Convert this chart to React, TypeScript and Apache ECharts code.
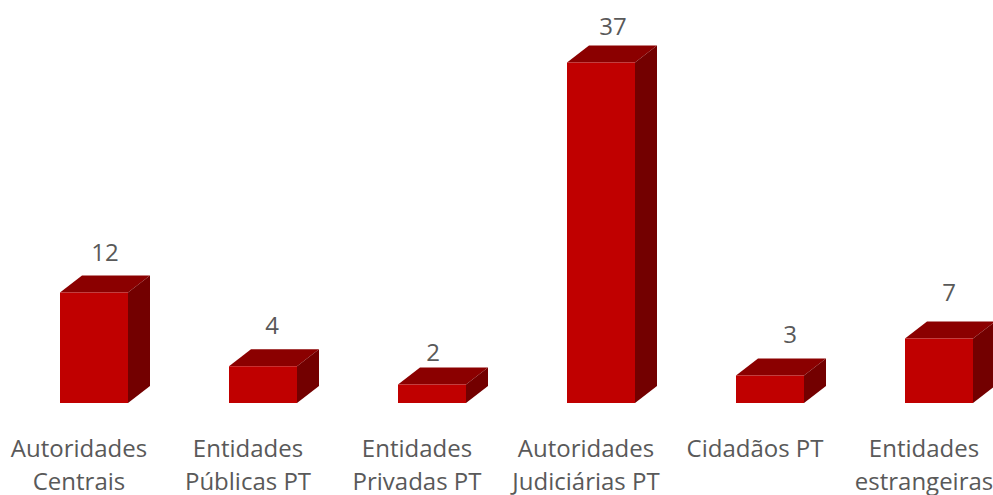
import React, { useEffect, useRef } from "react";
import * as echarts from "echarts";

const categories = [
  "Autoridades\nCentrais",
  "Entidades\nPúblicas PT",
  "Entidades\nPrivadas PT",
  "Autoridades\nJudiciárias PT",
  "Cidadãos PT",
  "Entidades\nestrangeiras",
];
const values = [12, 4, 2, 37, 3, 7];

// Hand placement of each value label relative to the column's back top edge.
const labelShiftX = [26, 24, 16, 27, 35, 25];
const labelLift = [24, 25, 16, 20, 25, 30];

const FRONT = "#C00000";
const TOP = "#8B0000";
const SIDE = "#730000";
const TEXT = "#595959";
const FONT = '"Open Sans", sans-serif';

const BAR_WIDTH = 68;
const BAR_OFFSET = -19;
const DEPTH_X = 22;
const DEPTH_Y = 17;

function renderColumn(params: any, api: any) {
  const i = api.value(0);
  const v = api.value(1);
  const [cx, yTop] = api.coord([i, v]);
  const [, yBase] = api.coord([i, 0]);
  const x0 = cx + BAR_OFFSET;
  const x1 = x0 + BAR_WIDTH;
  return {
    type: "group",
    children: [
      {
        type: "polygon",
        shape: { points: [[x0, yTop], [x0 + DEPTH_X, yTop - DEPTH_Y], [x1 + DEPTH_X, yTop - DEPTH_Y], [x1, yTop]] },
        style: { fill: TOP },
      },
      {
        type: "polygon",
        shape: { points: [[x1, yTop], [x1 + DEPTH_X, yTop - DEPTH_Y], [x1 + DEPTH_X, yBase - DEPTH_Y], [x1, yBase]] },
        style: { fill: SIDE },
      },
      {
        type: "rect",
        shape: { x: x0, y: yTop, width: BAR_WIDTH, height: yBase - yTop },
        style: { fill: FRONT },
      },
      {
        type: "text",
        x: cx + labelShiftX[params.dataIndex],
        y: yTop - DEPTH_Y - labelLift[params.dataIndex],
        style: {
          text: String(v),
          fill: TEXT,
          font: `24px ${FONT}`,
          align: "center",
          verticalAlign: "middle",
        },
      },
    ],
  };
}

export default function App() {
  const ref = useRef<HTMLDivElement>(null);

  useEffect(() => {
    const chart = echarts.init(ref.current!, undefined, { renderer: "svg" });
    chart.setOption({
      animation: false,
      backgroundColor: "#ffffff",
      grid: { left: -5.5, top: 35, width: 1014, height: 368, containLabel: false, outerBoundsMode: "none" },
      xAxis: {
        type: "category",
        data: categories,
        axisLine: { show: false },
        axisTick: { show: false },
        axisLabel: {
          interval: 0,
          color: TEXT,
          fontFamily: FONT,
          fontSize: 24,
          lineHeight: 33,
          margin: 28,
          hideOverlap: false,
        },
      },
      yAxis: { type: "value", min: 0, max: 40, show: false },
      series: [
        {
          type: "custom",
          clip: false,
          renderItem: renderColumn,
          encode: { x: 0, y: 1 },
          data: values.map((v, i) => [i, v]),
        },
      ],
    });
    return () => chart.dispose();
  }, []);

  return <div ref={ref} style={{ position: "absolute", left: 0, top: 0, width: 993, height: 495, overflow: "hidden" }} />;
}
